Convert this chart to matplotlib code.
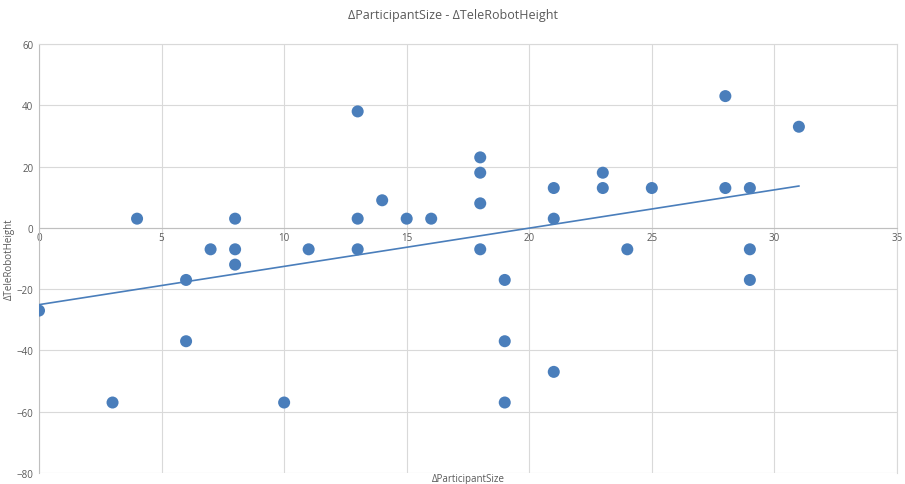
import numpy as np
import matplotlib
matplotlib.use('Agg')
import matplotlib.pyplot as plt

plt.rcParams['font.family'] = ['Open Sans', 'DejaVu Sans']

participant_size = [0, 3, 4, 6, 6, 7, 8, 8, 8, 10, 11, 13, 13, 13, 14, 15, 16,
                    18, 18, 18, 18, 19, 19, 19, 21, 21, 21, 23, 23, 24, 25,
                    28, 28, 29, 29, 29, 31]
telerobot_height = [-27, -57, 3, -17, -37, -7, 3, -7, -12, -57, -7, 38, 3, -7, 9, 3, 3,
                    23, 18, 8, -7, -17, -37, -57, 13, 3, -47, 18, 13, -7, 13,
                    43, 13, 13, -7, -17, 33]

x_ticks = [0, 5, 10, 15, 20, 25, 30, 35]
y_ticks = [-80, -60, -40, -20, 0, 20, 40, 60]

blue = '#4A7EBB'
grid = '#D9D9D9'
text = '#595959'

fig = plt.figure(figsize=(9.05, 4.85), dpi=100)
ax = fig.add_axes([0.0431, 0.0227, 0.9480, 0.8845])

x = np.array(participant_size)
y = np.array(telerobot_height)

# linear trendline
k, b = np.polyfit(x, y, 1)
xs = np.array([x.min(), x.max()])
ax.plot(xs, k * xs + b, color=blue, lw=1.2, zorder=3)

ax.scatter(x, y, s=75, color=blue, edgecolors='none', zorder=4)

ax.set_xlim(0, 35)
ax.set_ylim(-80, 60)
ax.set_xticks(x_ticks)
ax.set_yticks(y_ticks)
ax.grid(True, color=grid, lw=0.8)
ax.set_axisbelow(True)

for s in ['top', 'right']:
    ax.spines[s].set_color(grid)
    ax.spines[s].set_linewidth(0.8)
ax.spines['left'].set_color('#BFBFBF')
ax.spines['left'].set_linewidth(0.8)
ax.spines['bottom'].set_position(('data', 0))
ax.spines['bottom'].set_color('#BFBFBF')
ax.spines['bottom'].set_linewidth(0.8)

ax.tick_params(length=0, labelsize=7, colors=text, pad=4)
ax.tick_params(axis='x', pad=3)

ax.set_xlabel('ΔParticipantSize', fontsize=7, color=text)
ax.xaxis.set_label_coords(0.5, -0.013)
ax.xaxis.label.set_va('center')
ax.set_ylabel('ΔTeleRobotHeight', fontsize=7, color=text)
ax.yaxis.set_label_coords(-0.034, 0.5)
ax.yaxis.label.set_va('center')

fig.suptitle('ΔParticipantSize - ΔTeleRobotHeight', fontsize=9, color=text, y=0.982)

fig.savefig('out.png', dpi=100)
